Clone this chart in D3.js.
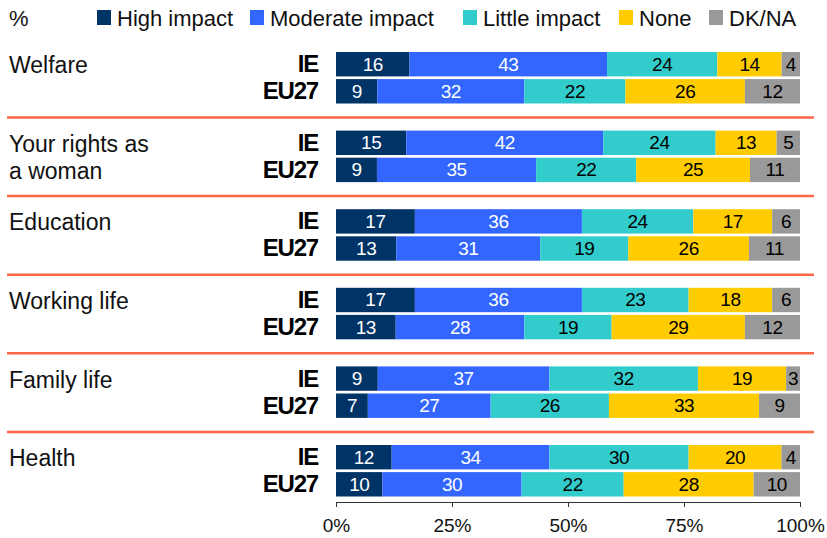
<!DOCTYPE html>
<html>
<head>
<meta charset="utf-8">
<script src="https://cdn.jsdelivr.net/npm/d3@7"></script>
<style>
  body { margin: 0; background: #fff; }
  svg { font-family: "Liberation Sans", Arial, sans-serif; }
</style>
</head>
<body>
<svg class="chart" width="827" height="538"></svg>
<script>
// data
const categories = ["Welfare", "Your rights as\na woman", "Education", "Working life", "Family life", "Health"];
const countries = ["IE", "EU27"];
const seriesNames = ["High impact", "Moderate impact", "Little impact", "None", "DK/NA"];
const colors = ["#003366", "#3366ff", "#33cccc", "#ffcc00", "#999999"];
const textColors = ["#fff", "#fff", "#000", "#000", "#000"];

const ieValues = [
  [16, 43, 24, 14, 4],
  [15, 42, 24, 13, 5],
  [17, 36, 24, 17, 6],
  [17, 36, 23, 18, 6],
  [9, 37, 32, 19, 3],
  [12, 34, 30, 20, 4]
];
const euValues = [
  [9, 32, 22, 26, 12],
  [9, 35, 22, 25, 11],
  [13, 31, 19, 26, 11],
  [13, 28, 19, 29, 12],
  [7, 27, 26, 33, 9],
  [10, 30, 22, 28, 10]
];
const tickValues = [0, 25, 50, 75, 100];

const svg = d3.select(".chart");

const x = d3.scaleLinear().domain([0, 100]).range([336, 800]);
// each group starts at the top of its IE bar
const groupY = d3.scaleBand().domain(d3.range(categories.length)).range([52, 52 + 6 * 78.6]);
const rowY = d3.scaleBand().domain(countries).range([0, 51.5]).paddingInner(0.1);

// legend
svg.append("text").attr("x", 9).attr("y", 26).attr("font-size", 22).attr("fill", "#111").text("%");
const legendX = [97, 250, 463, 619, 709];
const legend = svg.selectAll(".legend").data(seriesNames).join("g")
  .attr("transform", (d, i) => `translate(${legendX[i]}, 10)`);
legend.append("rect").attr("width", 14).attr("height", 15).attr("fill", (d, i) => colors[i]);
legend.append("text").attr("x", 20).attr("y", 16).attr("font-size", 22).attr("fill", "#111").text(d => d);

categories.forEach((cat, ci) => {
  const g = svg.append("g").attr("transform", `translate(0, ${groupY(ci)})`);

  // category label (may be two lines)
  cat.split("\n").forEach((line, li) => {
    g.append("text").attr("x", 9).attr("y", rowY(countries[li]) + rowY.bandwidth() / 2 + 9)
      .attr("font-size", 23).attr("fill", "#111").text(line);
  });

  [ieValues[ci], euValues[ci]].forEach((vals, ri) => {
    const total = d3.sum(vals);
    const norm = vals.map(v => v / total * 100);
    const starts = d3.cumsum([0].concat(norm));
    const y0 = rowY(countries[ri]);
    const h = rowY.bandwidth();

    g.append("text").attr("x", 318).attr("y", y0 + h / 2 + 8)
      .attr("text-anchor", "end").attr("font-size", 24).attr("font-weight", "bold")
      .attr("letter-spacing", -1.2).text(countries[ri]);

    vals.forEach((v, si) => {
      g.append("rect")
        .attr("x", x(starts[si])).attr("y", y0)
        .attr("width", x(starts[si] + norm[si]) - x(starts[si])).attr("height", h)
        .attr("fill", colors[si]);
      g.append("text")
        .attr("x", (x(starts[si]) + x(starts[si] + norm[si])) / 2)
        .attr("y", y0 + h / 2 + 6.5)
        .attr("text-anchor", "middle").attr("font-size", 19).attr("letter-spacing", -0.5)
        .attr("fill", textColors[si]).text(v);
    });
  });

  if (ci < categories.length - 1) {
    const sepY = groupY(ci) + 65.5;
    svg.append("line").attr("x1", 7).attr("x2", 814).attr("y1", sepY).attr("y2", sepY)
      .attr("stroke", "#ff6647").attr("stroke-width", 2.5);
  }
});

// x axis
const axis = svg.append("g").attr("transform", "translate(0, 502)")
  .call(d3.axisBottom(x).tickValues(tickValues).tickFormat(d => d + "%").tickSize(5).tickSizeOuter(0));
axis.select(".domain").attr("stroke", "#333");
axis.selectAll(".tick line").attr("stroke", "#333");
axis.selectAll(".tick text").attr("font-size", 19).attr("font-family", "Liberation Sans, Arial, sans-serif")
  .attr("fill", "#111").attr("y", 17).attr("dy", "0.71em");
</script>
</body>
</html>
